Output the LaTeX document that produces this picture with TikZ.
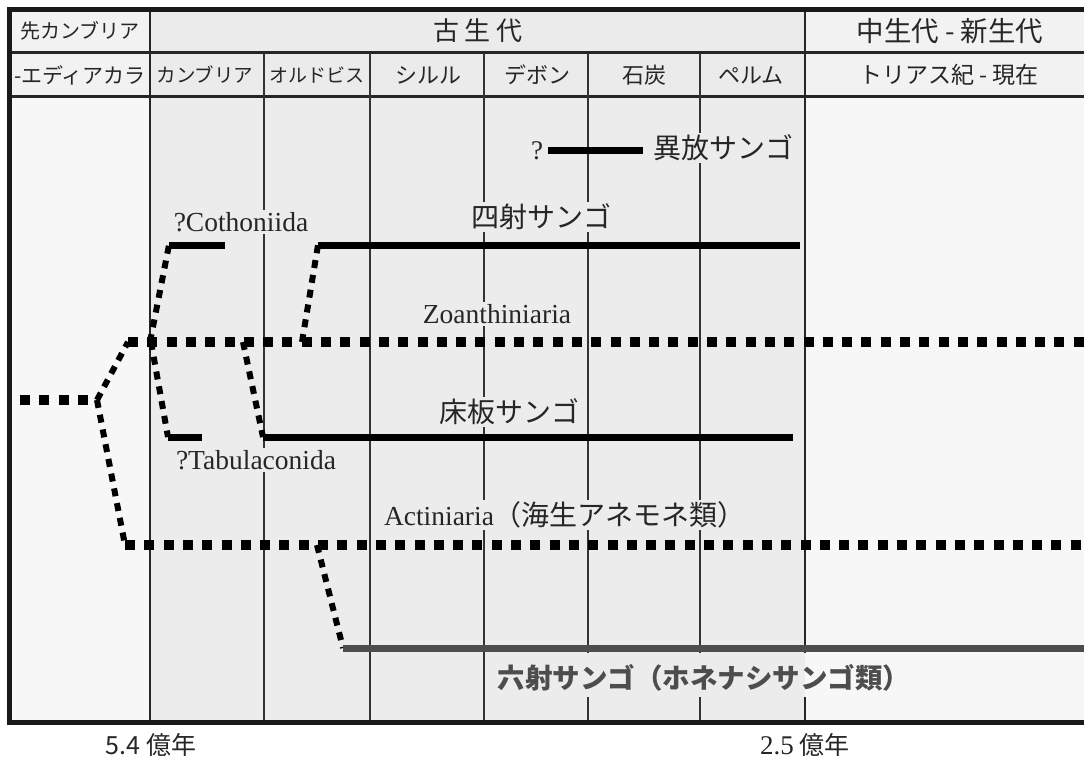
\documentclass[tikz,border=0pt]{standalone}
\usepackage{fontspec}
\setmainfont{Liberation Serif}
\newfontfamily\jp{Noto Sans CJK JP}
\newcommand\setfs[1]{\fontsize{#1}{#1}\selectfont}
\definecolor{paleo}{HTML}{ECECEC}
\definecolor{outerc}{HTML}{F7F7F7}
\definecolor{hdrA}{HTML}{F2F2F2}
\definecolor{hdrP}{HTML}{EBEBEB}
\definecolor{gridc}{HTML}{333333}
\definecolor{hexa}{HTML}{4D4D4D}
\tikzset{
 hdot/.style={line width=10pt, dash pattern=on 10pt off 9.3pt},
 ddot/.style={line width=6pt, dash pattern=on 8pt off 7pt},
 lineage/.style={line width=7pt},
 hexaline/.style={line width=7pt, draw=hexa},
 grid/.style={line width=1.6pt, draw=gridc},
 gridthick/.style={line width=2.6pt, draw=black!85},
 hdrline/.style={line width=3pt, draw=black!85},
 frame/.style={line width=5pt, draw=black!90},
 hdr/.style={inner sep=0pt, text=black!85},
 lab/.style={fill=paleo, inner sep=2pt, text=black!85},
}
\begin{document}
\begin{tikzpicture}[x=1pt,y=-1pt]
\useasboundingbox (0,0) rectangle (1084,760);
\clip (0,0) rectangle (1084,760);
\fill[white] (0,0) rectangle (1084,760);
% backgrounds
\fill[outerc] (9,96) rectangle (150,722);
\fill[paleo] (150,96) rectangle (805,722);
\fill[outerc] (805,96) rectangle (1090,722);
\fill[hdrA] (9,9) rectangle (150,96);
\fill[hdrP] (150,9) rectangle (805,96);
\fill[hdrA] (805,9) rectangle (1090,96);
% grid
\draw[hdrline] (9,53) -- (1090,53);
\draw[hdrline] (9,96) -- (1090,96);
\draw[gridthick] (150,9) -- (150,722);
\draw[gridthick] (805,9) -- (805,653) (805,697) -- (805,722);
\draw[grid] (264,53) -- (264,722);
\draw[grid] (370,53) -- (370,722);
\draw[grid] (484,53) -- (484,722);
\draw[grid] (588,53) -- (588,653) (588,697) -- (588,722);
\draw[grid] (700,53) -- (700,653) (700,697) -- (700,722);
% header texts
\node[hdr, font=\jp\setfs{20}] (hpc) at (80,31) {先カンブリア};
\node[hdr, font=\jp\setfs{26}] (hpz) at (478,31) {古\hspace{6pt}生\hspace{6pt}代};
\node[hdr, font=\jp\setfs{27.5}] (hmc) at (950,31) {中生代 - 新生代};
\node[hdr, font=\jp\setfs{21}] (hed) at (80,75) {-エディアカラ};
\node[hdr, font=\jp\setfs{19.5}] (hcam) at (205,75) {カンブリア};
\node[hdr, font=\jp\setfs{19}] (hord) at (317,75) {オルドビス};
\node[hdr, font=\jp\setfs{22}] (hsil) at (428,75) {シルル};
\node[hdr, font=\jp\setfs{22}] (hdev) at (537,75) {デボン};
\node[hdr, font=\jp\setfs{22}] (hcarb) at (644,75) {石炭};
\node[hdr, font=\jp\setfs{22}] (hperm) at (751,75) {ペルム};
\node[hdr, font=\jp\setfs{23}] (htri) at (949,75) {トリアス紀 - 現在};
% labels
\node[lab, font=\jp\setfs{28}] (lhet) at (723,148) {異放サンゴ};
\node[inner sep=0pt, font=\setfs{27}, text=black!85] (lq) at (537,151) {?};
\node[lab, font=\setfs{27.5}] (lcoth) at (241,222) {?Cothoniida};
\node[lab, font=\jp\setfs{28}] (lrug) at (541,217) {四射サンゴ};
\node[lab, font=\setfs{27.5}] (lzoan) at (497,314) {Zoanthiniaria};
\node[lab, font=\jp\setfs{28}] (ltab) at (509,412) {床板サンゴ};
\node[lab, font=\setfs{27.5}] (ltabc) at (256,460) {?Tabulaconida};
\node[lab] (lact) at (565,515) {{\setfs{27.5}Actiniaria}{\jp\setfs{28}（海生アネモネ類）}};
\node[inner sep=0pt, text=hexa, font=\jp\bfseries\setfs{27.5}] (lhex) at (704,678) {六射サンゴ（ホネナシサンゴ類）};
\node[inner sep=0pt, font=\jp\setfs{25}, text=black!85] (t54) at (151,745) {5.4 億年};
\node[inner sep=0pt, text=black!85] (t25) at (805,745) {{\setfs{27}2.5}\hspace{6pt}{\jp\setfs{25}億年}};
% lineage coordinates
\coordinate (r0) at (20,400);
\coordinate (r1) at (97,400);
\coordinate (zo0) at (128,342);
\coordinate (zoE) at (1095,342);
\coordinate (ac0) at (125,545);
\coordinate (acE) at (1095,545);
\coordinate (co0) at (150,342);
\coordinate (co1) at (169,245);
\coordinate (co2) at (225,245);
\coordinate (tc0) at (151,342);
\coordinate (tc1) at (168,437);
\coordinate (tc2) at (202,437);
\coordinate (ru0) at (302,342);
\coordinate (ru1) at (318,245);
\coordinate (ru2) at (800,245);
\coordinate (ta0) at (243,342);
\coordinate (ta1) at (263,437);
\coordinate (ta2) at (793,437);
\coordinate (sc0) at (317,545);
\coordinate (sc1) at (343,648);
\coordinate (sc2) at (1095,648);
\coordinate (he1) at (548,150);
\coordinate (he2) at (643,150);
% lineages
\draw[hdot] (r0) -- (r1);
\draw[ddot] (r1) -- (zo0);
\draw[ddot] (r1) -- (ac0);
\draw[hdot] (zo0) -- (zoE);
\draw[hdot] (ac0) -- (acE);
\draw[ddot] (co0) -- (co1);
\draw[lineage] (co1) -- (co2);
\draw[ddot] (tc0) -- (tc1);
\draw[lineage] (tc1) -- (tc2);
\draw[ddot] (ru0) -- (ru1);
\draw[lineage] (ru1) -- (ru2);
\draw[ddot] (ta0) -- (ta1);
\draw[lineage] (ta1) -- (ta2);
\draw[ddot] (sc0) -- (sc1);
\draw[hexaline] (sc1) -- (sc2);
\draw[lineage] (he1) -- (he2);
% frame
\draw[frame] (1095,9.5) -- (9.5,9.5) -- (9.5,722) -- (1095,722);
\end{tikzpicture}
\end{document}
